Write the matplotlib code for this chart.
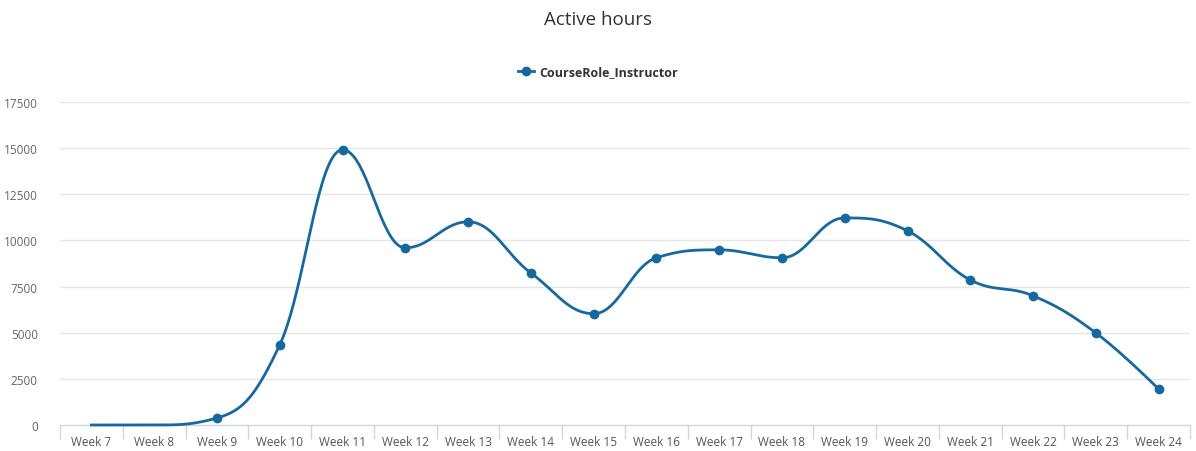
import numpy as np
import matplotlib
matplotlib.use("Agg")
import matplotlib.pyplot as plt
from matplotlib.lines import Line2D

plt.rcParams["font.family"] = ["Open Sans", "DejaVu Sans"]

# ── Данные ────────────────────────────────────────────────────────────────
weeks = [f"Week {w}" for w in range(7, 25)]
instructor = [0, 0, 380, 4340, 14910, 9600, 11010, 8240, 6030, 9060,
              9490, 9060, 11220, 10520, 7860, 7000, 4990, 1950]
series_name = "CourseRole_Instructor"
y_ticks = [0, 2500, 5000, 7500, 10000, 12500, 15000, 17500]

LINE = "#16699f"
GRID = "#e6e6e6"
AXIS = "#ccd6eb"
TEXT = "#666666"


def spline_path(px, py, smoothing=1.5, steps=40):
    """Кривая в стиле Highcharts spline (пиксели, ось y вниз)."""
    n = len(px)
    lc = [(px[i], py[i]) for i in range(n)]
    rc = [(px[i], py[i]) for i in range(n)]
    den = smoothing + 1
    for i in range(1, n - 1):
        x, y = px[i], py[i]
        lastX, lastY = px[i - 1], py[i - 1]
        nextX, nextY = px[i + 1], py[i + 1]
        lx = (smoothing * x + lastX) / den
        ly = (smoothing * y + lastY) / den
        rx = (smoothing * x + nextX) / den
        ry = (smoothing * y + nextY) / den
        corr = 0.0
        if rx != lx:
            corr = (ry - ly) * (rx - x) / (rx - lx) + y - ry
        ly += corr
        ry += corr
        # без ложных экстремумов
        if ly > lastY and ly > y:
            ly = max(lastY, y)
            ry = 2 * y - ly
        elif ly < lastY and ly < y:
            ly = min(lastY, y)
            ry = 2 * y - ly
        if ry > nextY and ry > y:
            ry = max(nextY, y)
            ly = 2 * y - ry
        elif ry < nextY and ry < y:
            ry = min(nextY, y)
            ly = 2 * y - ry
        lc[i] = (lx, ly)
        rc[i] = (rx, ry)
    t = np.linspace(0, 1, steps)[:, None]
    out = []
    for i in range(1, n):
        p0 = np.array([px[i - 1], py[i - 1]])
        p1 = np.array(rc[i - 1])
        p2 = np.array(lc[i])
        p3 = np.array([px[i], py[i]])
        seg = ((1 - t) ** 3) * p0 + 3 * ((1 - t) ** 2) * t * p1 \
            + 3 * (1 - t) * t ** 2 * p2 + t ** 3 * p3
        out.append(seg if i == 1 else seg[1:])
    return np.vstack(out)


fig = plt.figure(figsize=(11.96, 4.52), dpi=100)
W, H = 1196, 452
ax = fig.add_axes([60 / W, (H - 426) / H, 1130 / W, (426 - 103) / H])

x = np.arange(len(weeks))
ax.set_xlim(-0.5, len(weeks) - 0.5)
ax.set_ylim(0, 17500)

# сглаженная линия (считаем в пикселях с осью y вниз, как в Highcharts)
pix = ax.transData.transform(np.column_stack([x, instructor]))
curve = spline_path(pix[:, 0], -pix[:, 1])
curve[:, 1] = -curve[:, 1]
curve = ax.transData.inverted().transform(curve)
ax.plot(curve[:, 0], curve[:, 1], color=LINE, lw=2, zorder=3, clip_on=False)
ax.plot(x[2:], instructor[2:], "o", color=LINE, ms=6, zorder=4, clip_on=False)

# оси и сетка
ax.set_yticks(y_ticks)
ax.set_yticklabels([str(v) for v in y_ticks])
for v in y_ticks[1:]:
    ax.axhline(v, color=GRID, lw=1, zorder=1)
for s in ["top", "right", "left"]:
    ax.spines[s].set_visible(False)
ax.spines["bottom"].set_color(AXIS)
ax.spines["bottom"].set_linewidth(1)
ax.spines["bottom"].set_zorder(2)
ax.tick_params(axis="y", length=0, pad=16, labelsize=8.5, labelcolor=TEXT)

ax.set_xticks(x)
ax.set_xticklabels(weeks)
ax.tick_params(axis="x", length=0, pad=7, labelsize=8.5, labelcolor="#555555")
ax.set_xticks(np.arange(-0.5, len(weeks)), minor=True)
ax.tick_params(axis="x", which="minor", length=10, color=AXIS, width=1)

# заголовок и легенда
fig.text(0.5, 1 - 20 / H, "Active hours", ha="center", va="center",
         fontsize=13.5, color="#333333")
handle = Line2D([], [], color=LINE, lw=2, marker="o", ms=6)
fig.legend([handle], [series_name], loc="center", bbox_to_anchor=(0.5, 1 - 73 / H),
           frameon=False, handlelength=1.3, handletextpad=0.4,
           prop={"weight": "bold", "size": 9}, labelcolor="#333333")

fig.savefig("out.png", dpi=100, facecolor="white")
